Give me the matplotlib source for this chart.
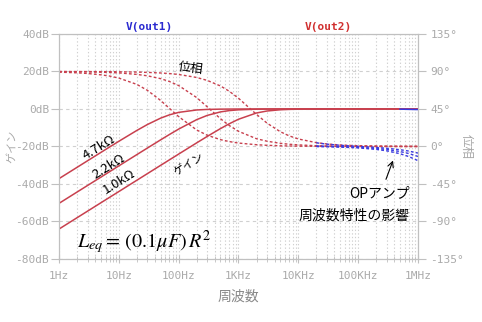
import matplotlib
matplotlib.use("Agg")
import matplotlib.pyplot as plt

plt.rcParams['font.family'] = ['Noto Sans CJK JP', 'DejaVu Sans']
plt.rcParams['mathtext.fontset'] = 'stix'

# 周波数 (Hz)
freq = [1, 2, 3, 5, 7, 10, 20, 30, 50, 70, 100, 200, 300, 500, 700,
        1e3, 2e3, 3e3, 5e3, 7e3, 1e4, 2e4, 3e4, 5e4, 7e4,
        1e5, 2e5, 3e5, 5e5, 7e5, 1e6]

# ゲイン (dB)  V(out2)
gain_47 = [-37.15, -31.14, -27.62, -23.19, -20.29, -17.23, -11.45, -8.30, -4.88, -3.14,
           -1.81, -0.53, -0.24, -0.09, -0.05, -0.02, -0.01, 0, 0, 0,
           0, 0, 0, 0, 0, 0, 0, 0, 0, 0, 0]
gain_22 = [-50.34, -44.32, -40.80, -36.36, -33.44, -30.34, -24.34, -20.84, -16.46, -13.63,
           -10.72, -5.69, -3.43, -1.56, -0.87, -0.45, -0.12, -0.05, -0.02, -0.01,
           0, 0, 0, 0, 0, 0, 0, 0, 0, 0, 0]
gain_10 = [-64.04, -58.01, -54.49, -50.05, -47.13, -44.04, -38.01, -34.49, -30.05, -27.14,
           -24.05, -18.08, -14.64, -10.46, -7.90, -5.48, -2.13, -1.08, -0.42, -0.22,
           -0.11, -0.03, -0.01, 0, 0, 0, 0, 0, 0, 0, 0]

# 位相 (deg)  V(out2)
phase_47 = [89.2, 88.4, 87.6, 86.0, 84.5, 82.1, 74.5, 67.4, 55.2, 45.8,
            35.8, 19.8, 13.5, 8.2, 5.9, 4.1, 2.1, 1.4, 0.8, 0.6,
            0.4, 0.2, 0.1, 0.1, 0.1, 0.0, 0, 0, 0, 0, 0]
phase_22 = [89.8, 89.7, 89.5, 89.1, 88.8, 88.3, 86.5, 84.8, 81.4, 78.0,
            73.1, 58.7, 47.6, 33.3, 25.2, 18.2, 9.3, 6.3, 3.8, 2.7,
            1.9, 0.9, 0.6, 0.4, 0.3, 0.2, 0.1, 0.1, 0.0, 0.0, 0.0]
phase_10 = [90.0, 89.9, 89.9, 89.8, 89.8, 89.6, 89.3, 88.9, 88.2, 87.5,
            86.4, 82.8, 79.3, 72.6, 66.3, 57.9, 38.5, 28.0, 17.7, 12.8,
            9.0, 4.6, 3.0, 1.8, 1.3, 0.9, 0.5, 0.3, 0.2, 0.1, 0.1]

# V(out1): 高域のみ (OPアンプの影響)
freq_hi = [2e4, 3e4, 5e4, 7e4, 1e5, 2e5, 3e5, 5e5, 7e5, 1e6]
out1_gain = [0, 0, 0, 0, 0, -0.02, -0.05, -0.1, -0.2, -0.3]
out1_ph_47 = [-0.14, -0.39, -0.80, -1.17, -1.71, -3.48, -5.23, -8.68, -12.08, -17.0]
out1_ph_22 = [0.70, 0.26, -0.23, -0.58, -1.03, -2.35, -3.59, -6.03, -8.44, -11.98]
out1_ph_10 = [4.39, 2.80, 1.42, 0.74, 0.10, -1.15, -2.12, -3.85, -5.50, -7.93]

xticks = [1, 10, 100, 1e3, 1e4, 1e5, 1e6]
xlabels = ['1Hz', '10Hz', '100Hz', '1KHz', '10KHz', '100KHz', '1MHz']
db_ticks = [40, 20, 0, -20, -40, -60, -80]
db_labels = ['40dB', '20dB', '0dB', '-20dB', '-40dB', '-60dB', '-80dB']
deg_ticks = [135, 90, 45, 0, -45, -90, -135]
deg_labels = ['135°', '90°', '45°', '0°', '-45°', '-90°', '-135°']

red = '#c8404e'
blue = '#3a3ae0'
gray = '#aaaaaa'
mono = 'DejaVu Sans Mono'

fig = plt.figure(figsize=(4.82, 3.22), dpi=100)
ax = fig.add_axes([0.1224, 0.1957, 0.7448, 0.6988])
ax2 = ax.twinx()

for g in (gain_47, gain_22, gain_10):
    ax.plot(freq, g, color=red, lw=1.1, zorder=3)
# out1 のゲインは高域の終わりだけ見える
ax.plot(freq_hi[7:], out1_gain[7:], color=blue, lw=1.1, zorder=4)

dash = (0, (2, 1.6))
for p in (phase_47, phase_22, phase_10):
    ax2.plot(freq, p, color=red, lw=1.0, linestyle=dash)
for p in (out1_ph_47, out1_ph_22, out1_ph_10):
    ax2.plot(freq_hi, p, color=blue, lw=1.0, linestyle=dash)

ax.set_xscale('log')
ax.set_xlim(1, 1e6)
ax.set_ylim(-80, 40)
ax2.set_ylim(-135, 135)

ax.set_xticks(xticks)
ax.set_xticklabels(xlabels, family=mono, color=gray, fontsize=8)
ax.set_yticks(db_ticks)
ax.set_yticklabels(db_labels, family=mono, color=gray, fontsize=8)
ax2.set_yticks(deg_ticks)
ax2.set_yticklabels(deg_labels, family=mono, color=gray, fontsize=8)

ax.tick_params(axis='x', which='major', direction='inout', length=6, color='#c0c0c0', pad=6)
ax.tick_params(axis='x', which='minor', direction='inout', length=4, color='#c0c0c0')
ax.tick_params(axis='y', direction='out', length=6, color='#c0c0c0', pad=1)
ax2.tick_params(axis='y', direction='out', length=6, color='#c0c0c0', pad=3)

ax.grid(True, axis='x', which='both', color='#d0d0d0', linestyle=(0, (1.2, 2)), lw=0.8)
ax.grid(True, axis='y', which='major', color='#d0d0d0', linestyle=(0, (3, 3)), lw=0.8)
for a in (ax, ax2):
    for s in a.spines.values():
        s.set_color('#c0c0c0')

ax.set_ylabel('ゲイン', color=gray, fontsize=8, labelpad=-1)
ax2.set_ylabel('位相', color=gray, fontsize=9, rotation=270, labelpad=6)
ax.set_xlabel('周波数', color='#888888', fontsize=10, labelpad=6)

fig.text(149 / 482, 1 - 27 / 322, 'V(out1)', color='#2a2ad0', family=mono,
         fontweight='bold', fontsize=8, ha='center', va='center')
fig.text(328 / 482, 1 - 27 / 322, 'V(out2)', color='#d03030', family=mono,
         fontweight='bold', fontsize=8, ha='center', va='center')

ax.text(161, 21.9, '位相', fontsize=9, rotation=-8, ha='center', va='center',
        rotation_mode='anchor', zorder=6)
for fx, fy, s in ((4.7, -20.8, '4.7kΩ'), (6.9, -30.9, '2.2kΩ'), (10, -38.9, '1.0kΩ')):
    ax.text(fx, fy, s, fontsize=9.5, rotation=32, ha='center', va='center',
            rotation_mode='anchor', zorder=6)
ax.text(149, -29.3, 'ゲイン', fontsize=8, rotation=32, ha='center', va='center',
        rotation_mode='anchor', zorder=6)
ax.text(7.36e5, -44.8, 'OPアンプ', fontsize=10, ha='right', va='center', zorder=6)
ax.text(7.36e5, -57.1, '周波数特性の影響', fontsize=10, ha='right', va='center', zorder=6)
ax.annotate('', xy=(3.97e5, -26.1), xytext=(2.81e5, -38.9),
            arrowprops=dict(arrowstyle='->', color='black', lw=0.8), zorder=6)

ax.text(2.0, -70.9, r'$L_{eq} = \,\left(0.1\mu F\right)\,R^2$', fontsize=14.5,
        ha='left', va='center', zorder=6)

fig.savefig('out.png', dpi=100, facecolor='white')
